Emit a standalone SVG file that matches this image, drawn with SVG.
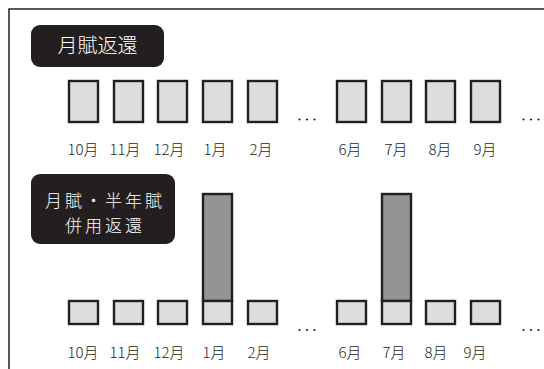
<svg xmlns="http://www.w3.org/2000/svg" width="544" height="369" viewBox="0 0 544 369">
<style>
.frame{fill:none;stroke:#231f20;stroke-width:1.5}
.tag{fill:#231f20}
.tagt{fill:#fff;font-family:"Noto Sans CJK JP","Noto Sans",sans-serif;font-size:20px;font-weight:300;text-anchor:middle}
.tagt2{fill:#fff;font-family:"Noto Sans CJK JP","Noto Sans",sans-serif;font-size:17px;font-weight:300;letter-spacing:3px;text-anchor:middle}
.box{fill:#dcdddd;stroke:#231f20;stroke-width:2.4}
.bar{fill:#929496;stroke:#231f20;stroke-width:2.4}
.m{fill:#231f20;font-family:"Noto Sans CJK JP","Noto Sans",sans-serif;font-size:15px;font-weight:300;text-anchor:middle}
.dots{fill:#231f20}
</style>
<rect width="544" height="369" fill="#fff"/>
<path class="frame" d="M9,369 V9 H544"/>

<g id="tag-monthly">
<rect class="tag" x="31" y="25" width="133" height="42" rx="9"/>
<text class="tagt" x="97.5" y="53">月賦返還</text>
</g>

<g id="row-monthly">
<rect class="box" x="69" y="81" width="29" height="41"/>
<rect class="box" x="114" y="81" width="29" height="41"/>
<rect class="box" x="158" y="81" width="29" height="41"/>
<rect class="box" x="203" y="81" width="29" height="41"/>
<rect class="box" x="248" y="81" width="29" height="41"/>
<rect class="box" x="337" y="81" width="29" height="41"/>
<rect class="box" x="382" y="81" width="29" height="41"/>
<rect class="box" x="426" y="81" width="29" height="41"/>
<rect class="box" x="471" y="81" width="29" height="41"/>
<g class="dots">
<circle cx="299.5" cy="119.5" r="1.1"/><circle cx="307" cy="119.5" r="1.1"/><circle cx="314.5" cy="119.5" r="1.1"/>
<circle cx="523.5" cy="119.5" r="1.1"/><circle cx="531" cy="119.5" r="1.1"/><circle cx="538.5" cy="119.5" r="1.1"/>
</g>
<text class="m" x="83" y="155">10月</text>
<text class="m" x="125" y="155">11月</text>
<text class="m" x="169" y="155">12月</text>
<text class="m" x="215" y="155">1月</text>
<text class="m" x="261" y="155">2月</text>
<text class="m" x="350" y="155">6月</text>
<text class="m" x="396" y="155">7月</text>
<text class="m" x="440" y="155">8月</text>
<text class="m" x="485" y="155">9月</text>
</g>

<g id="tag-combined">
<rect class="tag" x="31" y="174" width="144" height="70" rx="9"/>
<text class="tagt2" x="105" y="207">月賦・半年賦</text>
<text class="tagt2" x="105" y="232">併用返還</text>
</g>

<g id="row-combined">
<rect class="bar" x="203" y="194" width="29" height="107"/>
<rect class="bar" x="382" y="194" width="29" height="107"/>
<rect class="box" x="69" y="301" width="29" height="23"/>
<rect class="box" x="114" y="301" width="29" height="23"/>
<rect class="box" x="158" y="301" width="29" height="23"/>
<rect class="box" x="203" y="301" width="29" height="23"/>
<rect class="box" x="248" y="301" width="29" height="23"/>
<rect class="box" x="337" y="301" width="29" height="23"/>
<rect class="box" x="382" y="301" width="29" height="23"/>
<rect class="box" x="426" y="301" width="29" height="23"/>
<rect class="box" x="471" y="301" width="29" height="23"/>
<g class="dots">
<circle cx="299.5" cy="330" r="1.1"/><circle cx="307" cy="330" r="1.1"/><circle cx="314.5" cy="330" r="1.1"/>
<circle cx="523.5" cy="330" r="1.1"/><circle cx="531" cy="330" r="1.1"/><circle cx="538.5" cy="330" r="1.1"/>
</g>
<text class="m" x="83" y="358">10月</text>
<text class="m" x="125" y="358">11月</text>
<text class="m" x="169" y="358">12月</text>
<text class="m" x="214" y="358">1月</text>
<text class="m" x="259" y="358">2月</text>
<text class="m" x="350" y="358">6月</text>
<text class="m" x="394" y="358">7月</text>
<text class="m" x="436" y="358">8月</text>
<text class="m" x="475" y="358">9月</text>
</g>
</svg>
